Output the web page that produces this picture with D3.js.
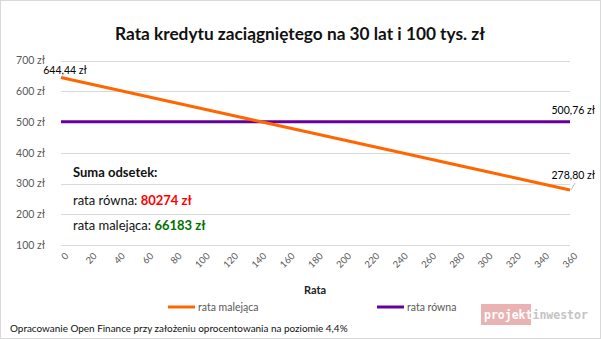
<!DOCTYPE html>
<html><head><meta charset="utf-8">
<script src="https://cdn.jsdelivr.net/npm/d3@7"></script>
<style>
html,body{margin:0;padding:0;background:#fff;}
svg{display:block;font-family:Lato,"Open Sans",sans-serif;}
</style></head>
<body>
<svg id="chart" width="601" height="339"></svg>
<script>
const titleText = "Rata kredytu zaciągniętego na 30 lat i 100 tys. zł";
const months = [0,20,40,60,80,100,120,140,160,180,200,220,240,260,280,300,320,340,360];
const rataMalejaca = [644.44,624.13,603.81,583.50,563.18,542.87,522.55,502.24,481.92,461.61,441.29,420.98,400.66,380.35,360.03,339.72,319.40,299.09,278.80];
const rataRowna = [500.76,500.76,500.76,500.76,500.76,500.76,500.76,500.76,500.76,500.76,500.76,500.76,500.76,500.76,500.76,500.76,500.76,500.76,500.76];
const yTicks = [100,200,300,400,500,600,700];
const seriesNames = ["rata malejąca","rata równa"];
const seriesColors = ["#ff6600","#660099"];
const sumLabel = "Suma odsetek:";
const sumRowna = "80274 zł";
const sumMalejaca = "66183 zł";
const footer = "Opracowanie Open Finance przy założeniu oprocentowania na poziomie 4,4%";

const svg = d3.select("#chart");
const W = 601, H = 339;
svg.append("rect").attr("x",0.5).attr("y",0.5).attr("width",W-1).attr("height",H-1)
  .attr("fill","#fff").attr("stroke","#d9d9d9");

const x = d3.scaleLinear().domain([0,360]).range([61,570]);
const y = d3.scaleLinear().domain([100,700]).range([245,60.5]);
const fmt = v => d3.format(".2f")(v).replace(".",",") + " zł";

// title
const t = svg.append("text").attr("x",300).attr("y",40).attr("text-anchor","middle")
  .attr("font-weight","bold").attr("font-size",18).attr("fill","#111").text(titleText);
const tw = t.node().getComputedTextLength();
t.attr("font-size", 18*370/tw);

// gridlines
svg.append("g").selectAll("line").data(yTicks).join("line")
  .attr("x1",x(0)).attr("x2",x(360)).attr("y1",d=>Math.round(y(d))+0.5).attr("y2",d=>Math.round(y(d))+0.5)
  .attr("stroke","#d9d9d9").attr("stroke-width",1);

// y axis labels
const yAxis = d3.axisLeft(y).tickValues(yTicks).tickFormat(d=>d+" zł").tickSize(0).tickPadding(0);
const ya = svg.append("g").attr("transform","translate(45,0)").call(yAxis);
ya.select(".domain").remove();
ya.selectAll("text").attr("font-size",10.5).attr("fill","#595959").attr("font-family","Lato,sans-serif");

// x axis labels
const xAxis = d3.axisBottom(x).tickValues(months).tickSize(0).tickPadding(0);
const xa = svg.append("g").attr("transform","translate(0,252)").call(xAxis);
xa.select(".domain").remove();
xa.selectAll("text").attr("font-size",9.5).attr("fill","#595959").attr("font-family","Lato,sans-serif")
  .attr("text-anchor","end").attr("dy","0.7em")
  .attr("transform","translate(3,0) rotate(-45)");

// text box
svg.append("text").attr("x",73).attr("y",177).attr("font-size",13).attr("font-weight","bold").attr("fill","#111").text(sumLabel);
const r1 = svg.append("text").attr("x",73).attr("y",205).attr("font-size",13).attr("fill","#111");
r1.append("tspan").text("rata równa: ");
r1.append("tspan").attr("fill","#ff0000").attr("font-weight","bold").text(sumRowna);
const r2 = svg.append("text").attr("x",73).attr("y",230).attr("font-size",13).attr("fill","#111");
r2.append("tspan").text("rata malejąca: ");
r2.append("tspan").attr("fill","#007000").attr("font-weight","bold").text(sumMalejaca);

// lines
const line = d3.line().x((d,i)=>x(months[i])).y(d=>y(d));
svg.append("path").datum(rataRowna).attr("d",line).attr("fill","none")
  .attr("stroke",seriesColors[1]).attr("stroke-width",3);
svg.append("path").datum(rataMalejaca).attr("d",line).attr("fill","none")
  .attr("stroke",seriesColors[0]).attr("stroke-width",3);

// data labels
svg.append("text").attr("x",65).attr("y",74).attr("text-anchor","middle").attr("font-size",10.5)
  .attr("fill","#000").text(fmt(rataMalejaca[0]));
svg.append("text").attr("x",595).attr("y",114).attr("text-anchor","end").attr("font-size",10.5)
  .attr("fill","#000").text(fmt(rataRowna[rataRowna.length-1]));
svg.append("text").attr("x",595).attr("y",179).attr("text-anchor","end").attr("font-size",10.5)
  .attr("fill","#000").text(fmt(rataMalejaca[rataMalejaca.length-1]));
svg.append("line").attr("x1",575).attr("y1",183).attr("x2",x(360)+1).attr("y2",y(rataMalejaca[18]))
  .attr("stroke","#a6a6a6").attr("stroke-width",0.75);

// axis title
svg.append("text").attr("x",315).attr("y",294).attr("text-anchor","middle").attr("font-size",11)
  .attr("font-weight","bold").attr("fill","#222").text("Rata");

// legend
const lx = [168,377];
seriesNames.forEach((n,i)=>{
  svg.append("line").attr("x1",lx[i]).attr("x2",lx[i]+27).attr("y1",307).attr("y2",307)
    .attr("stroke",seriesColors[i]).attr("stroke-width",3);
  svg.append("text").attr("x",lx[i]+30).attr("y",310.5).attr("font-size",10.5).attr("fill","#595959").text(n);
});

// footer
const f = svg.append("text").attr("x",10).attr("y",332).attr("font-size",9.5).attr("fill","#111").text(footer);
const fw = f.node().getComputedTextLength();
f.attr("font-size", 9.5*338/fw);

// logo
svg.append("rect").attr("x",481).attr("y",304).attr("width",50).attr("height",21).attr("fill","#e9b3b3");
const lg = svg.append("text").attr("x",484).attr("y",318.5).attr("font-size",11.5).attr("font-weight","bold")
  .attr("font-family","'DejaVu Sans Mono',monospace");
lg.append("tspan").attr("fill","#fff").text("projekt");
lg.append("tspan").attr("fill","#c4c4c4").text("inwestor");
</script>
</body></html>
